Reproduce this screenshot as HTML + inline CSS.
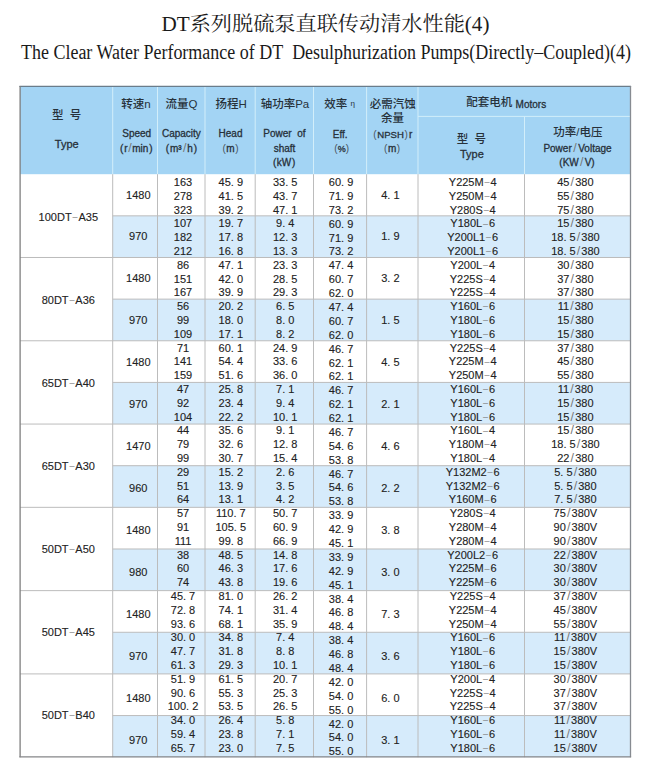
<!DOCTYPE html><html><head><meta charset="utf-8"><title>DT系列脱硫泵直联传动清水性能(4)</title>
<style>html,body{margin:0;padding:0;background:#fff;}body{width:652px;height:771px;overflow:hidden;}svg{display:block;}.s{font-family:"Liberation Sans","Noto Sans CJK SC",sans-serif;}.t{font-family:"Liberation Serif","Noto Serif CJK SC",serif;}.d{font-size:11px;fill:#222;text-anchor:middle;stroke:#222;stroke-width:0.12px;}.pa{fill:#4a5560;stroke:none;}.sl{fill:#777;stroke:none;font-size:12.5px;}.dh{fill:#808080;stroke:none;font-size:9px;}.h{font-size:10px;fill:#27313a;text-anchor:middle;stroke:#27313a;stroke-width:0.3px;}.h11{font-size:11px;fill:#27313a;text-anchor:middle;stroke:#27313a;stroke-width:0.3px;}.hc{font-size:11.5px;fill:#27313a;text-anchor:middle;font-weight:500;}</style></head><body>
<svg width="652" height="771" viewBox="0 0 652 771">
<text class="t" x="161.5" y="31" font-size="20" fill="#1a1a1a" textLength="328" lengthAdjust="spacingAndGlyphs">DT系列脱硫泵直联传动清水性能(4)</text>
<text class="t" x="21" y="58.5" font-size="20.5" fill="#1a1a1a" textLength="610" lengthAdjust="spacingAndGlyphs">The Clear Water Performance of DT&#160; Desulphurization Pumps(Directly–Coupled)(4)</text>
<rect x="20" y="86" width="610.5" height="88.2" fill="#a3d4f4"/>
<rect x="112.7" y="215.84" width="517.8" height="41.64" fill="#d6ebfb"/>
<rect x="112.7" y="299.13" width="517.8" height="41.64" fill="#d6ebfb"/>
<rect x="112.7" y="382.41" width="517.8" height="41.64" fill="#d6ebfb"/>
<rect x="112.7" y="465.7" width="517.8" height="41.64" fill="#d6ebfb"/>
<rect x="112.7" y="548.99" width="517.8" height="41.64" fill="#d6ebfb"/>
<rect x="112.7" y="632.27" width="517.8" height="41.64" fill="#d6ebfb"/>
<rect x="112.7" y="715.56" width="517.8" height="41.64" fill="#d6ebfb"/>
<line x1="112.7" y1="86" x2="112.7" y2="174.2" stroke="#d2eefa" stroke-width="1"/>
<line x1="157.5" y1="86" x2="157.5" y2="174.2" stroke="#d2eefa" stroke-width="1"/>
<line x1="205" y1="86" x2="205" y2="174.2" stroke="#d2eefa" stroke-width="1"/>
<line x1="255.2" y1="86" x2="255.2" y2="174.2" stroke="#d2eefa" stroke-width="1"/>
<line x1="313.5" y1="86" x2="313.5" y2="174.2" stroke="#d2eefa" stroke-width="1"/>
<line x1="366.6" y1="86" x2="366.6" y2="174.2" stroke="#d2eefa" stroke-width="1"/>
<line x1="418" y1="86" x2="418" y2="174.2" stroke="#d2eefa" stroke-width="1"/>
<line x1="524.5" y1="116.4" x2="524.5" y2="174.2" stroke="#d2eefa" stroke-width="1"/>
<line x1="418" y1="116.4" x2="630.5" y2="116.4" stroke="#d2eefa" stroke-width="1"/>
<line x1="112.7" y1="174.2" x2="112.7" y2="757.2" stroke="#bcbcbc" stroke-width="1"/>
<line x1="157.5" y1="174.2" x2="157.5" y2="757.2" stroke="#bcbcbc" stroke-width="1"/>
<line x1="205" y1="174.2" x2="205" y2="757.2" stroke="#bcbcbc" stroke-width="1"/>
<line x1="255.2" y1="174.2" x2="255.2" y2="757.2" stroke="#bcbcbc" stroke-width="1"/>
<line x1="313.5" y1="174.2" x2="313.5" y2="757.2" stroke="#bcbcbc" stroke-width="1"/>
<line x1="366.6" y1="174.2" x2="366.6" y2="757.2" stroke="#bcbcbc" stroke-width="1"/>
<line x1="418" y1="174.2" x2="418" y2="757.2" stroke="#bcbcbc" stroke-width="1"/>
<line x1="524.5" y1="174.2" x2="524.5" y2="757.2" stroke="#bcbcbc" stroke-width="1"/>
<line x1="112.7" y1="215.84" x2="630.5" y2="215.84" stroke="#bcbcbc" stroke-width="1"/>
<line x1="20" y1="257.49" x2="630.5" y2="257.49" stroke="#bcbcbc" stroke-width="1"/>
<line x1="112.7" y1="299.13" x2="630.5" y2="299.13" stroke="#bcbcbc" stroke-width="1"/>
<line x1="20" y1="340.77" x2="630.5" y2="340.77" stroke="#bcbcbc" stroke-width="1"/>
<line x1="112.7" y1="382.41" x2="630.5" y2="382.41" stroke="#bcbcbc" stroke-width="1"/>
<line x1="20" y1="424.06" x2="630.5" y2="424.06" stroke="#bcbcbc" stroke-width="1"/>
<line x1="112.7" y1="465.7" x2="630.5" y2="465.7" stroke="#bcbcbc" stroke-width="1"/>
<line x1="20" y1="507.34" x2="630.5" y2="507.34" stroke="#bcbcbc" stroke-width="1"/>
<line x1="112.7" y1="548.99" x2="630.5" y2="548.99" stroke="#bcbcbc" stroke-width="1"/>
<line x1="20" y1="590.63" x2="630.5" y2="590.63" stroke="#bcbcbc" stroke-width="1"/>
<line x1="112.7" y1="632.27" x2="630.5" y2="632.27" stroke="#bcbcbc" stroke-width="1"/>
<line x1="20" y1="673.91" x2="630.5" y2="673.91" stroke="#bcbcbc" stroke-width="1"/>
<line x1="112.7" y1="715.56" x2="630.5" y2="715.56" stroke="#bcbcbc" stroke-width="1"/>
<line x1="19.4" y1="86.3" x2="631.1" y2="86.3" stroke="#6a7c8a" stroke-width="1.2"/>
<line x1="20.1" y1="86" x2="20.1" y2="757.2" stroke="#7e7e7e" stroke-width="1.3"/>
<line x1="630.5" y1="86" x2="630.5" y2="757.2" stroke="#878b91" stroke-width="1.3"/>
<line x1="19.4" y1="756.8" x2="631.1" y2="756.8" stroke="#858688" stroke-width="1.3"/>
<text class="s hc" x="66.6" y="119">型&#160;&#160;号</text>
<text class="s h11" x="66.8" y="147.6">Type</text>
<text class="s hc" x="136" y="107.6">转速n</text>
<text class="s h" x="136.7" y="137.4">Speed</text>
<text class="s h" x="136.3" y="151.9">(<tspan dx="0.8">r</tspan><tspan class="sl" dx="0.6">/</tspan><tspan dx="0.6">min</tspan><tspan dx="0.8">)</tspan></text>
<text class="s hc" x="181.6" y="107.6">流量Q</text>
<text class="s h" x="181.4" y="137.4">Capacity</text>
<text class="s h" x="181.4" y="151.9">(<tspan dx="1">m³</tspan><tspan class="sl" dx="1.2">/</tspan><tspan dx="0.8">h</tspan><tspan dx="1">)</tspan></text>
<text class="s hc" x="231.1" y="107.6">扬程H</text>
<text class="s h" x="230.5" y="137.4">Head</text>
<text class="s h" x="230.5" y="151.9"><tspan class="pa">(</tspan><tspan dx="0.6">m</tspan><tspan class="pa" dx="0.6">)</tspan></text>
<text class="s hc" x="285" y="107.6">轴功率Pa</text>
<text class="s h" x="284.4" y="137.4">Power&#160;&#160;of</text>
<text class="s h" x="284.5" y="152">shaft</text>
<text class="s h" x="284.1" y="166.4">(<tspan dx="0.6">kW</tspan><tspan dx="0.6">)</tspan></text>
<text class="s hc" x="339.5" y="107.6">效率 <tspan font-size="8" dy="-1.8">η</tspan></text>
<text class="s h" x="340.2" y="138.3">Eff.</text>
<text class="s h" x="341.7" y="151.9"><tspan class="pa">(</tspan><tspan font-size="9">%</tspan><tspan class="pa">)</tspan></text>
<text class="s hc" x="392.7" y="107.6">必需汽蚀</text>
<text class="s hc" x="392.5" y="122">余量</text>
<text class="s h" x="392.8" y="138"><tspan class="pa">(</tspan><tspan dx="0.7" font-size="9.6">NPSH</tspan><tspan class="pa" dx="0.5">)</tspan><tspan dx="1.2">r</tspan></text>
<text class="s h" x="392.1" y="151.9"><tspan class="pa">(</tspan><tspan dx="0.6">m</tspan><tspan class="pa" dx="0.6">)</tspan></text>
<text class="s hc" x="466.3" y="105.5" style="text-anchor:start">配套电机</text>
<text class="s h" x="515.6" y="108" style="text-anchor:start">Motors</text>
<text class="s hc" x="471.4" y="143">型&#160;&#160;号</text>
<text class="s h11" x="471.9" y="158.3">Type</text>
<text class="s hc" x="577.8" y="136">功率/电压</text>
<text class="s h" x="577.5" y="151.7">Power<tspan class="sl" dx="1.5">/</tspan><tspan dx="1.5">Voltage</tspan></text>
<text class="s h" x="577" y="166.3">(KW<tspan class="sl" dx="1.2">/</tspan><tspan dx="1.2">V)</tspan></text>
<text class="s d" x="68.3" y="220.7">100DT<tspan class="dh" dx="0.9" dy="-0.9">–</tspan><tspan dx="0.9" dy="0.9">A35</tspan></text>
<text class="s d" x="138.3" y="198.5">1480</text>
<text class="s d" x="390.4" y="198.5">4. 1</text>
<text class="s d" x="183" y="186">163</text>
<text class="s d" x="230.8" y="186">45. 9</text>
<text class="s d" x="285.2" y="186">33. 5</text>
<text class="s d" x="341.1" y="186">60. 9</text>
<text class="s d" x="472.7" y="186">Y225M<tspan class="dh" dx="0.9" dy="-0.9">–</tspan><tspan dx="0.9" dy="0.9">4</tspan></text>
<text class="s d" x="575.4" y="186">45<tspan class="sl" dx="1.1">/</tspan><tspan dx="1.1">380</tspan></text>
<text class="s d" x="183" y="199.8">278</text>
<text class="s d" x="230.8" y="199.8">41. 5</text>
<text class="s d" x="285.2" y="199.8">43. 7</text>
<text class="s d" x="341.1" y="199.88">71. 9</text>
<text class="s d" x="472.7" y="199.8">Y250M<tspan class="dh" dx="0.9" dy="-0.9">–</tspan><tspan dx="0.9" dy="0.9">4</tspan></text>
<text class="s d" x="575.4" y="199.8">55<tspan class="sl" dx="1.1">/</tspan><tspan dx="1.1">380</tspan></text>
<text class="s d" x="183" y="213.6">323</text>
<text class="s d" x="230.8" y="213.6">39. 2</text>
<text class="s d" x="285.2" y="213.6">47. 1</text>
<text class="s d" x="341.1" y="213.77">73. 2</text>
<text class="s d" x="472.7" y="213.6">Y280S<tspan class="dh" dx="0.9" dy="-0.9">–</tspan><tspan dx="0.9" dy="0.9">4</tspan></text>
<text class="s d" x="575.4" y="213.6">75<tspan class="sl" dx="1.1">/</tspan><tspan dx="1.1">380</tspan></text>
<text class="s d" x="138.3" y="240.45">970</text>
<text class="s d" x="390.4" y="240.45">1. 9</text>
<text class="s d" x="183" y="227.4">107</text>
<text class="s d" x="230.8" y="227.4">19. 7</text>
<text class="s d" x="285.2" y="227.4">9. 4</text>
<text class="s d" x="341.1" y="227.66">60. 9</text>
<text class="s d" x="472.7" y="227.4">Y180L<tspan class="dh" dx="0.9" dy="-0.9">–</tspan><tspan dx="0.9" dy="0.9">6</tspan></text>
<text class="s d" x="575.4" y="227.4">15<tspan class="sl" dx="1.1">/</tspan><tspan dx="1.1">380</tspan></text>
<text class="s d" x="183" y="241.2">182</text>
<text class="s d" x="230.8" y="241.2">17. 8</text>
<text class="s d" x="285.2" y="241.2">12. 3</text>
<text class="s d" x="341.1" y="241.54">71. 9</text>
<text class="s d" x="472.7" y="241.2">Y200L1<tspan class="dh" dx="0.9" dy="-0.9">–</tspan><tspan dx="0.9" dy="0.9">6</tspan></text>
<text class="s d" x="575.4" y="241.2">18. 5<tspan class="sl" dx="1.1">/</tspan><tspan dx="1.1">380</tspan></text>
<text class="s d" x="183" y="255">212</text>
<text class="s d" x="230.8" y="255">16. 8</text>
<text class="s d" x="285.2" y="255">13. 3</text>
<text class="s d" x="341.1" y="255.43">73. 2</text>
<text class="s d" x="472.7" y="255">Y200L1<tspan class="dh" dx="0.9" dy="-0.9">–</tspan><tspan dx="0.9" dy="0.9">6</tspan></text>
<text class="s d" x="575.4" y="255">18. 5<tspan class="sl" dx="1.1">/</tspan><tspan dx="1.1">380</tspan></text>
<text class="s d" x="68.3" y="303.78">80DT<tspan class="dh" dx="0.9" dy="-0.9">–</tspan><tspan dx="0.9" dy="0.9">A36</tspan></text>
<text class="s d" x="138.3" y="282.4">1480</text>
<text class="s d" x="390.4" y="282.4">3. 2</text>
<text class="s d" x="183" y="268.8">86</text>
<text class="s d" x="230.8" y="268.8">47. 1</text>
<text class="s d" x="285.2" y="268.8">23. 3</text>
<text class="s d" x="341.1" y="269.31">47. 4</text>
<text class="s d" x="472.7" y="268.8">Y200L<tspan class="dh" dx="0.9" dy="-0.9">–</tspan><tspan dx="0.9" dy="0.9">4</tspan></text>
<text class="s d" x="575.4" y="268.8">30<tspan class="sl" dx="1.1">/</tspan><tspan dx="1.1">380</tspan></text>
<text class="s d" x="183" y="282.6">151</text>
<text class="s d" x="230.8" y="282.6">42. 0</text>
<text class="s d" x="285.2" y="282.6">28. 5</text>
<text class="s d" x="341.1" y="283.19">60. 7</text>
<text class="s d" x="472.7" y="282.6">Y225S<tspan class="dh" dx="0.9" dy="-0.9">–</tspan><tspan dx="0.9" dy="0.9">4</tspan></text>
<text class="s d" x="575.4" y="282.6">37<tspan class="sl" dx="1.1">/</tspan><tspan dx="1.1">380</tspan></text>
<text class="s d" x="183" y="296.4">167</text>
<text class="s d" x="230.8" y="296.4">39. 9</text>
<text class="s d" x="285.2" y="296.4">29. 3</text>
<text class="s d" x="341.1" y="297.08">62. 0</text>
<text class="s d" x="472.7" y="296.4">Y225S<tspan class="dh" dx="0.9" dy="-0.9">–</tspan><tspan dx="0.9" dy="0.9">4</tspan></text>
<text class="s d" x="575.4" y="296.4">37<tspan class="sl" dx="1.1">/</tspan><tspan dx="1.1">380</tspan></text>
<text class="s d" x="138.3" y="324.35">970</text>
<text class="s d" x="390.4" y="324.35">1. 5</text>
<text class="s d" x="183" y="310.2">56</text>
<text class="s d" x="230.8" y="310.2">20. 2</text>
<text class="s d" x="285.2" y="310.2">6. 5</text>
<text class="s d" x="341.1" y="310.97">47. 4</text>
<text class="s d" x="472.7" y="310.2">Y160L<tspan class="dh" dx="0.9" dy="-0.9">–</tspan><tspan dx="0.9" dy="0.9">6</tspan></text>
<text class="s d" x="575.4" y="310.2">11<tspan class="sl" dx="1.1">/</tspan><tspan dx="1.1">380</tspan></text>
<text class="s d" x="183" y="324">99</text>
<text class="s d" x="230.8" y="324">18. 0</text>
<text class="s d" x="285.2" y="324">8. 0</text>
<text class="s d" x="341.1" y="324.85">60. 7</text>
<text class="s d" x="472.7" y="324">Y180L<tspan class="dh" dx="0.9" dy="-0.9">–</tspan><tspan dx="0.9" dy="0.9">6</tspan></text>
<text class="s d" x="575.4" y="324">15<tspan class="sl" dx="1.1">/</tspan><tspan dx="1.1">380</tspan></text>
<text class="s d" x="183" y="337.8">109</text>
<text class="s d" x="230.8" y="337.8">17. 1</text>
<text class="s d" x="285.2" y="337.8">8. 2</text>
<text class="s d" x="341.1" y="338.74">62. 0</text>
<text class="s d" x="472.7" y="337.8">Y180L<tspan class="dh" dx="0.9" dy="-0.9">–</tspan><tspan dx="0.9" dy="0.9">6</tspan></text>
<text class="s d" x="575.4" y="337.8">15<tspan class="sl" dx="1.1">/</tspan><tspan dx="1.1">380</tspan></text>
<text class="s d" x="68.3" y="386.86">65DT<tspan class="dh" dx="0.9" dy="-0.9">–</tspan><tspan dx="0.9" dy="0.9">A40</tspan></text>
<text class="s d" x="138.3" y="366.3">1480</text>
<text class="s d" x="390.4" y="366.3">4. 5</text>
<text class="s d" x="183" y="351.6">71</text>
<text class="s d" x="230.8" y="351.6">60. 1</text>
<text class="s d" x="285.2" y="351.6">24. 9</text>
<text class="s d" x="341.1" y="352.62">46. 7</text>
<text class="s d" x="472.7" y="351.6">Y225S<tspan class="dh" dx="0.9" dy="-0.9">–</tspan><tspan dx="0.9" dy="0.9">4</tspan></text>
<text class="s d" x="575.4" y="351.6">37<tspan class="sl" dx="1.1">/</tspan><tspan dx="1.1">380</tspan></text>
<text class="s d" x="183" y="365.4">141</text>
<text class="s d" x="230.8" y="365.4">54. 4</text>
<text class="s d" x="285.2" y="365.4">33. 6</text>
<text class="s d" x="341.1" y="366.5">62. 1</text>
<text class="s d" x="472.7" y="365.4">Y225M<tspan class="dh" dx="0.9" dy="-0.9">–</tspan><tspan dx="0.9" dy="0.9">4</tspan></text>
<text class="s d" x="575.4" y="365.4">45<tspan class="sl" dx="1.1">/</tspan><tspan dx="1.1">380</tspan></text>
<text class="s d" x="183" y="379.2">159</text>
<text class="s d" x="230.8" y="379.2">51. 6</text>
<text class="s d" x="285.2" y="379.2">36. 0</text>
<text class="s d" x="341.1" y="380.39">62. 1</text>
<text class="s d" x="472.7" y="379.2">Y250M<tspan class="dh" dx="0.9" dy="-0.9">–</tspan><tspan dx="0.9" dy="0.9">4</tspan></text>
<text class="s d" x="575.4" y="379.2">55<tspan class="sl" dx="1.1">/</tspan><tspan dx="1.1">380</tspan></text>
<text class="s d" x="138.3" y="408.25">970</text>
<text class="s d" x="390.4" y="408.25">2. 1</text>
<text class="s d" x="183" y="393">47</text>
<text class="s d" x="230.8" y="393">25. 8</text>
<text class="s d" x="285.2" y="393">7. 1</text>
<text class="s d" x="341.1" y="394.27">46. 7</text>
<text class="s d" x="472.7" y="393">Y160L<tspan class="dh" dx="0.9" dy="-0.9">–</tspan><tspan dx="0.9" dy="0.9">6</tspan></text>
<text class="s d" x="575.4" y="393">11<tspan class="sl" dx="1.1">/</tspan><tspan dx="1.1">380</tspan></text>
<text class="s d" x="183" y="406.8">92</text>
<text class="s d" x="230.8" y="406.8">23. 4</text>
<text class="s d" x="285.2" y="406.8">9. 4</text>
<text class="s d" x="341.1" y="408.16">62. 1</text>
<text class="s d" x="472.7" y="406.8">Y180L<tspan class="dh" dx="0.9" dy="-0.9">–</tspan><tspan dx="0.9" dy="0.9">6</tspan></text>
<text class="s d" x="575.4" y="406.8">15<tspan class="sl" dx="1.1">/</tspan><tspan dx="1.1">380</tspan></text>
<text class="s d" x="183" y="420.6">104</text>
<text class="s d" x="230.8" y="420.6">22. 2</text>
<text class="s d" x="285.2" y="420.6">10. 1</text>
<text class="s d" x="341.1" y="422.04">62. 1</text>
<text class="s d" x="472.7" y="420.6">Y180L<tspan class="dh" dx="0.9" dy="-0.9">–</tspan><tspan dx="0.9" dy="0.9">6</tspan></text>
<text class="s d" x="575.4" y="420.6">15<tspan class="sl" dx="1.1">/</tspan><tspan dx="1.1">380</tspan></text>
<text class="s d" x="68.3" y="469.94">65DT<tspan class="dh" dx="0.9" dy="-0.9">–</tspan><tspan dx="0.9" dy="0.9">A30</tspan></text>
<text class="s d" x="138.3" y="450.2">1470</text>
<text class="s d" x="390.4" y="450.2">4. 6</text>
<text class="s d" x="183" y="434.4">44</text>
<text class="s d" x="230.8" y="434.4">35. 6</text>
<text class="s d" x="285.2" y="434.4">9. 1</text>
<text class="s d" x="341.1" y="435.93">46. 7</text>
<text class="s d" x="472.7" y="434.4">Y160L<tspan class="dh" dx="0.9" dy="-0.9">–</tspan><tspan dx="0.9" dy="0.9">4</tspan></text>
<text class="s d" x="575.4" y="434.4">15<tspan class="sl" dx="1.1">/</tspan><tspan dx="1.1">380</tspan></text>
<text class="s d" x="183" y="448.2">79</text>
<text class="s d" x="230.8" y="448.2">32. 6</text>
<text class="s d" x="285.2" y="448.2">12. 8</text>
<text class="s d" x="341.1" y="449.81">54. 6</text>
<text class="s d" x="472.7" y="448.2">Y180M<tspan class="dh" dx="0.9" dy="-0.9">–</tspan><tspan dx="0.9" dy="0.9">4</tspan></text>
<text class="s d" x="575.4" y="448.2">18. 5<tspan class="sl" dx="1.1">/</tspan><tspan dx="1.1">380</tspan></text>
<text class="s d" x="183" y="462">99</text>
<text class="s d" x="230.8" y="462">30. 7</text>
<text class="s d" x="285.2" y="462">15. 4</text>
<text class="s d" x="341.1" y="463.7">53. 8</text>
<text class="s d" x="472.7" y="462">Y180L<tspan class="dh" dx="0.9" dy="-0.9">–</tspan><tspan dx="0.9" dy="0.9">4</tspan></text>
<text class="s d" x="575.4" y="462">22<tspan class="sl" dx="1.1">/</tspan><tspan dx="1.1">380</tspan></text>
<text class="s d" x="138.3" y="492.15">960</text>
<text class="s d" x="390.4" y="492.15">2. 2</text>
<text class="s d" x="183" y="475.8">29</text>
<text class="s d" x="230.8" y="475.8">15. 2</text>
<text class="s d" x="285.2" y="475.8">2. 6</text>
<text class="s d" x="341.1" y="477.58">46. 7</text>
<text class="s d" x="472.7" y="475.8">Y132M2<tspan class="dh" dx="0.9" dy="-0.9">–</tspan><tspan dx="0.9" dy="0.9">6</tspan></text>
<text class="s d" x="575.4" y="475.8">5. 5<tspan class="sl" dx="1.1">/</tspan><tspan dx="1.1">380</tspan></text>
<text class="s d" x="183" y="489.6">51</text>
<text class="s d" x="230.8" y="489.6">13. 9</text>
<text class="s d" x="285.2" y="489.6">3. 5</text>
<text class="s d" x="341.1" y="491.47">54. 6</text>
<text class="s d" x="472.7" y="489.6">Y132M2<tspan class="dh" dx="0.9" dy="-0.9">–</tspan><tspan dx="0.9" dy="0.9">6</tspan></text>
<text class="s d" x="575.4" y="489.6">5. 5<tspan class="sl" dx="1.1">/</tspan><tspan dx="1.1">380</tspan></text>
<text class="s d" x="183" y="503.4">64</text>
<text class="s d" x="230.8" y="503.4">13. 1</text>
<text class="s d" x="285.2" y="503.4">4. 2</text>
<text class="s d" x="341.1" y="505.36">53. 8</text>
<text class="s d" x="472.7" y="503.4">Y160M<tspan class="dh" dx="0.9" dy="-0.9">–</tspan><tspan dx="0.9" dy="0.9">6</tspan></text>
<text class="s d" x="575.4" y="503.4">7. 5<tspan class="sl" dx="1.1">/</tspan><tspan dx="1.1">380</tspan></text>
<text class="s d" x="68.3" y="553.02">50DT<tspan class="dh" dx="0.9" dy="-0.9">–</tspan><tspan dx="0.9" dy="0.9">A50</tspan></text>
<text class="s d" x="138.3" y="534.1">1480</text>
<text class="s d" x="390.4" y="534.1">3. 8</text>
<text class="s d" x="183" y="517.2">57</text>
<text class="s d" x="230.8" y="517.2">110. 7</text>
<text class="s d" x="285.2" y="517.2">50. 7</text>
<text class="s d" x="341.1" y="519.24">33. 9</text>
<text class="s d" x="472.7" y="517.2">Y280S<tspan class="dh" dx="0.9" dy="-0.9">–</tspan><tspan dx="0.9" dy="0.9">4</tspan></text>
<text class="s d" x="575.4" y="517.2">75<tspan class="sl" dx="1.1">/</tspan><tspan dx="1.1">380V</tspan></text>
<text class="s d" x="183" y="531">91</text>
<text class="s d" x="230.8" y="531">105. 5</text>
<text class="s d" x="285.2" y="531">60. 9</text>
<text class="s d" x="341.1" y="533.12">42. 9</text>
<text class="s d" x="472.7" y="531">Y280M<tspan class="dh" dx="0.9" dy="-0.9">–</tspan><tspan dx="0.9" dy="0.9">4</tspan></text>
<text class="s d" x="575.4" y="531">90<tspan class="sl" dx="1.1">/</tspan><tspan dx="1.1">380V</tspan></text>
<text class="s d" x="183" y="544.8">111</text>
<text class="s d" x="230.8" y="544.8">99. 8</text>
<text class="s d" x="285.2" y="544.8">66. 9</text>
<text class="s d" x="341.1" y="547.01">45. 1</text>
<text class="s d" x="472.7" y="544.8">Y280M<tspan class="dh" dx="0.9" dy="-0.9">–</tspan><tspan dx="0.9" dy="0.9">4</tspan></text>
<text class="s d" x="575.4" y="544.8">90<tspan class="sl" dx="1.1">/</tspan><tspan dx="1.1">380V</tspan></text>
<text class="s d" x="138.3" y="576.05">980</text>
<text class="s d" x="390.4" y="576.05">3. 0</text>
<text class="s d" x="183" y="558.6">38</text>
<text class="s d" x="230.8" y="558.6">48. 5</text>
<text class="s d" x="285.2" y="558.6">14. 8</text>
<text class="s d" x="341.1" y="560.89">33. 9</text>
<text class="s d" x="472.7" y="558.6">Y200L2<tspan class="dh" dx="0.9" dy="-0.9">–</tspan><tspan dx="0.9" dy="0.9">6</tspan></text>
<text class="s d" x="575.4" y="558.6">22<tspan class="sl" dx="1.1">/</tspan><tspan dx="1.1">380V</tspan></text>
<text class="s d" x="183" y="572.4">60</text>
<text class="s d" x="230.8" y="572.4">46. 3</text>
<text class="s d" x="285.2" y="572.4">17. 6</text>
<text class="s d" x="341.1" y="574.78">42. 9</text>
<text class="s d" x="472.7" y="572.4">Y225M<tspan class="dh" dx="0.9" dy="-0.9">–</tspan><tspan dx="0.9" dy="0.9">6</tspan></text>
<text class="s d" x="575.4" y="572.4">30<tspan class="sl" dx="1.1">/</tspan><tspan dx="1.1">380V</tspan></text>
<text class="s d" x="183" y="586.2">74</text>
<text class="s d" x="230.8" y="586.2">43. 8</text>
<text class="s d" x="285.2" y="586.2">19. 6</text>
<text class="s d" x="341.1" y="588.66">45. 1</text>
<text class="s d" x="472.7" y="586.2">Y225M<tspan class="dh" dx="0.9" dy="-0.9">–</tspan><tspan dx="0.9" dy="0.9">6</tspan></text>
<text class="s d" x="575.4" y="586.2">30<tspan class="sl" dx="1.1">/</tspan><tspan dx="1.1">380V</tspan></text>
<text class="s d" x="68.3" y="636.1">50DT<tspan class="dh" dx="0.9" dy="-0.9">–</tspan><tspan dx="0.9" dy="0.9">A45</tspan></text>
<text class="s d" x="138.3" y="618">1480</text>
<text class="s d" x="390.4" y="618">7. 3</text>
<text class="s d" x="183" y="600">45. 7</text>
<text class="s d" x="230.8" y="600">81. 0</text>
<text class="s d" x="285.2" y="600">26. 2</text>
<text class="s d" x="341.1" y="602.55">38. 4</text>
<text class="s d" x="472.7" y="600">Y225S<tspan class="dh" dx="0.9" dy="-0.9">–</tspan><tspan dx="0.9" dy="0.9">4</tspan></text>
<text class="s d" x="575.4" y="600">37<tspan class="sl" dx="1.1">/</tspan><tspan dx="1.1">380V</tspan></text>
<text class="s d" x="183" y="613.8">72. 8</text>
<text class="s d" x="230.8" y="613.8">74. 1</text>
<text class="s d" x="285.2" y="613.8">31. 4</text>
<text class="s d" x="341.1" y="616.43">46. 8</text>
<text class="s d" x="472.7" y="613.8">Y225M<tspan class="dh" dx="0.9" dy="-0.9">–</tspan><tspan dx="0.9" dy="0.9">4</tspan></text>
<text class="s d" x="575.4" y="613.8">45<tspan class="sl" dx="1.1">/</tspan><tspan dx="1.1">380V</tspan></text>
<text class="s d" x="183" y="627.6">93. 6</text>
<text class="s d" x="230.8" y="627.6">68. 1</text>
<text class="s d" x="285.2" y="627.6">35. 9</text>
<text class="s d" x="341.1" y="630.32">48. 4</text>
<text class="s d" x="472.7" y="627.6">Y250M<tspan class="dh" dx="0.9" dy="-0.9">–</tspan><tspan dx="0.9" dy="0.9">4</tspan></text>
<text class="s d" x="575.4" y="627.6">55<tspan class="sl" dx="1.1">/</tspan><tspan dx="1.1">380V</tspan></text>
<text class="s d" x="138.3" y="659.95">970</text>
<text class="s d" x="390.4" y="659.95">3. 6</text>
<text class="s d" x="183" y="641.4">30. 0</text>
<text class="s d" x="230.8" y="641.4">34. 8</text>
<text class="s d" x="285.2" y="641.4">7. 4</text>
<text class="s d" x="341.1" y="644.2">38. 4</text>
<text class="s d" x="472.7" y="641.4">Y160L<tspan class="dh" dx="0.9" dy="-0.9">–</tspan><tspan dx="0.9" dy="0.9">6</tspan></text>
<text class="s d" x="575.4" y="641.4">11<tspan class="sl" dx="1.1">/</tspan><tspan dx="1.1">380V</tspan></text>
<text class="s d" x="183" y="655.2">47. 7</text>
<text class="s d" x="230.8" y="655.2">31. 8</text>
<text class="s d" x="285.2" y="655.2">8. 8</text>
<text class="s d" x="341.1" y="658.09">46. 8</text>
<text class="s d" x="472.7" y="655.2">Y180L<tspan class="dh" dx="0.9" dy="-0.9">–</tspan><tspan dx="0.9" dy="0.9">6</tspan></text>
<text class="s d" x="575.4" y="655.2">15<tspan class="sl" dx="1.1">/</tspan><tspan dx="1.1">380V</tspan></text>
<text class="s d" x="183" y="669">61. 3</text>
<text class="s d" x="230.8" y="669">29. 3</text>
<text class="s d" x="285.2" y="669">10. 1</text>
<text class="s d" x="341.1" y="671.97">48. 4</text>
<text class="s d" x="472.7" y="669">Y180L<tspan class="dh" dx="0.9" dy="-0.9">–</tspan><tspan dx="0.9" dy="0.9">6</tspan></text>
<text class="s d" x="575.4" y="669">15<tspan class="sl" dx="1.1">/</tspan><tspan dx="1.1">380V</tspan></text>
<text class="s d" x="68.3" y="719.18">50DT<tspan class="dh" dx="0.9" dy="-0.9">–</tspan><tspan dx="0.9" dy="0.9">B40</tspan></text>
<text class="s d" x="138.3" y="701.9">1480</text>
<text class="s d" x="390.4" y="701.9">6. 0</text>
<text class="s d" x="183" y="682.8">51. 9</text>
<text class="s d" x="230.8" y="682.8">61. 5</text>
<text class="s d" x="285.2" y="682.8">20. 7</text>
<text class="s d" x="341.1" y="685.86">42. 0</text>
<text class="s d" x="472.7" y="682.8">Y200L<tspan class="dh" dx="0.9" dy="-0.9">–</tspan><tspan dx="0.9" dy="0.9">4</tspan></text>
<text class="s d" x="575.4" y="682.8">30<tspan class="sl" dx="1.1">/</tspan><tspan dx="1.1">380V</tspan></text>
<text class="s d" x="183" y="696.6">90. 6</text>
<text class="s d" x="230.8" y="696.6">55. 3</text>
<text class="s d" x="285.2" y="696.6">25. 3</text>
<text class="s d" x="341.1" y="699.75">54. 0</text>
<text class="s d" x="472.7" y="696.6">Y225S<tspan class="dh" dx="0.9" dy="-0.9">–</tspan><tspan dx="0.9" dy="0.9">4</tspan></text>
<text class="s d" x="575.4" y="696.6">37<tspan class="sl" dx="1.1">/</tspan><tspan dx="1.1">380V</tspan></text>
<text class="s d" x="183" y="710.4">100. 2</text>
<text class="s d" x="230.8" y="710.4">53. 5</text>
<text class="s d" x="285.2" y="710.4">26. 5</text>
<text class="s d" x="341.1" y="713.63">55. 0</text>
<text class="s d" x="472.7" y="710.4">Y225S<tspan class="dh" dx="0.9" dy="-0.9">–</tspan><tspan dx="0.9" dy="0.9">4</tspan></text>
<text class="s d" x="575.4" y="710.4">37<tspan class="sl" dx="1.1">/</tspan><tspan dx="1.1">380V</tspan></text>
<text class="s d" x="138.3" y="743.85">970</text>
<text class="s d" x="390.4" y="743.85">3. 1</text>
<text class="s d" x="183" y="724.2">34. 0</text>
<text class="s d" x="230.8" y="724.2">26. 4</text>
<text class="s d" x="285.2" y="724.2">5. 8</text>
<text class="s d" x="341.1" y="727.51">42. 0</text>
<text class="s d" x="472.7" y="724.2">Y160L<tspan class="dh" dx="0.9" dy="-0.9">–</tspan><tspan dx="0.9" dy="0.9">6</tspan></text>
<text class="s d" x="575.4" y="724.2">11<tspan class="sl" dx="1.1">/</tspan><tspan dx="1.1">380V</tspan></text>
<text class="s d" x="183" y="738">59. 4</text>
<text class="s d" x="230.8" y="738">23. 8</text>
<text class="s d" x="285.2" y="738">7. 1</text>
<text class="s d" x="341.1" y="741.4">54. 0</text>
<text class="s d" x="472.7" y="738">Y160L<tspan class="dh" dx="0.9" dy="-0.9">–</tspan><tspan dx="0.9" dy="0.9">6</tspan></text>
<text class="s d" x="575.4" y="738">11<tspan class="sl" dx="1.1">/</tspan><tspan dx="1.1">380V</tspan></text>
<text class="s d" x="183" y="751.8">65. 7</text>
<text class="s d" x="230.8" y="751.8">23. 0</text>
<text class="s d" x="285.2" y="751.8">7. 5</text>
<text class="s d" x="341.1" y="755.28">55. 0</text>
<text class="s d" x="472.7" y="751.8">Y180L<tspan class="dh" dx="0.9" dy="-0.9">–</tspan><tspan dx="0.9" dy="0.9">6</tspan></text>
<text class="s d" x="575.4" y="751.8">15<tspan class="sl" dx="1.1">/</tspan><tspan dx="1.1">380V</tspan></text>
</svg></body></html>
